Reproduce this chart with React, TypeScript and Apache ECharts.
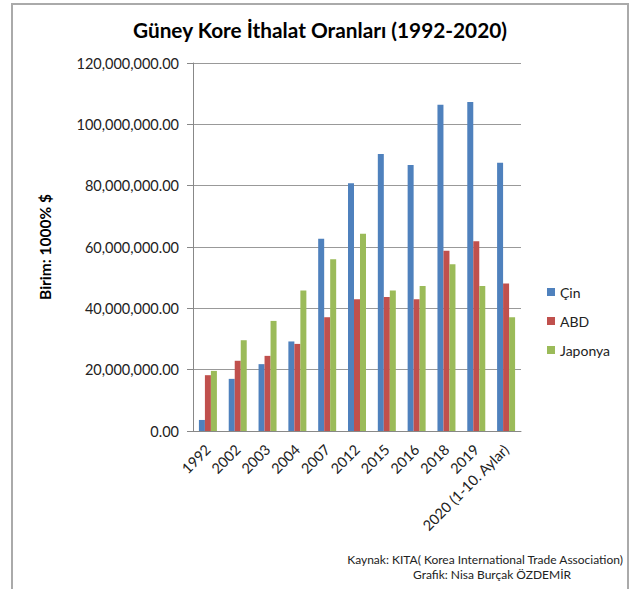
import React, { useEffect, useRef } from "react";
import * as echarts from "echarts";

const categories = ["1992", "2002", "2003", "2004", "2007", "2012", "2015", "2016", "2018", "2019", "2020 (1-10. Aylar)"];
const cin = [3600000, 17000000, 21800000, 29200000, 62700000, 80800000, 90300000, 86700000, 106400000, 107300000, 87500000];
const abd = [18200000, 22900000, 24500000, 28400000, 37100000, 43000000, 43700000, 43000000, 58800000, 61900000, 48100000];
const japonya = [19600000, 29600000, 35900000, 45800000, 56000000, 64300000, 45800000, 47300000, 54400000, 47300000, 37100000];
const seriesNames = ["Çin", "ABD", "Japonya"];
const title = "Güney Kore İthalat Oranları (1992-2020)";
const yName = "Birim: 1000% $";
const footer1 = "Kaynak: KITA( Korea International Trade Association)";
const footer2 = "Grafik: Nisa Burçak ÖZDEMİR";

const FONT = "Lato";

export default function App() {
  const ref = useRef<HTMLDivElement>(null);
  useEffect(() => {
    const chart = echarts.init(ref.current!, null, { renderer: "svg" });
    const colors = ["#4F81BD", "#C0504D", "#9BBB59"];
    const data = [cin, abd, japonya];
    chart.setOption({
      animation: false,
      backgroundColor: "#ffffff",
      textStyle: { fontFamily: FONT },
      title: {
        text: title,
        left: 320,
        textAlign: "center",
        top: 19,
        padding: 0,
        textStyle: { fontFamily: FONT, fontSize: 20.8, fontWeight: "bold", color: "#000" },
      },
      legend: {
        orient: "vertical",
        left: 547,
        top: 285,
        padding: 0,
        itemWidth: 8,
        itemHeight: 8,
        itemGap: 15,
        icon: "rect",
        textStyle: { fontFamily: FONT, fontSize: 14, color: "#222" },
        data: seriesNames,
      },
      grid: { left: 193, right: 112, top: 63, bottom: 158 },
      xAxis: {
        type: "category",
        data: categories,
        axisLine: { show: true, lineStyle: { color: "#888", width: 1 } },
        axisTick: { show: false },
        axisLabel: { rotate: 45, fontSize: 14.5, color: "#222", fontFamily: FONT, margin: 16, interval: 0 },
      },
      yAxis: {
        type: "value",
        min: 0,
        max: 120000000,
        interval: 20000000,
        name: yName,
        nameLocation: "middle",
        nameRotate: 90,
        nameGap: 140,
        nameTextStyle: { fontFamily: FONT, fontSize: 15.5, fontWeight: "bold", color: "#000" },
        axisLine: { show: true, lineStyle: { color: "#888", width: 1 } },
        axisTick: { show: true, length: 6, lineStyle: { color: "#888" } },
        splitLine: { show: true, lineStyle: { color: "#999", width: 1 } },
        axisLabel: {
          fontSize: 14.5,
          color: "#222",
          fontFamily: FONT,
          margin: 14,
          formatter: (v: number) => v.toLocaleString("en-US", { minimumFractionDigits: 2, maximumFractionDigits: 2 }),
        },
      },
      series: seriesNames.map((n, i) => ({
        name: n,
        type: "bar",
        data: data[i],
        barWidth: 6,
        barGap: "0%",
        itemStyle: { color: colors[i] },
      })),
      graphic: [
        {
          type: "rect",
          shape: { x: 12, y: 4, width: 616, height: 600 },
          style: { fill: "none", stroke: "#aaaaaa", lineWidth: 2 },
          silent: true,
        },
        {
          type: "text",
          x: 623,
          y: 559,
          style: { text: footer1, fontFamily: FONT, fontSize: 12, fill: "#222", align: "right", verticalAlign: "middle" },
        },
        {
          type: "text",
          x: 492,
          y: 574,
          style: { text: footer2, fontFamily: FONT, fontSize: 12, fill: "#222", align: "center", verticalAlign: "middle" },
        },
      ],
    });
    return () => chart.dispose();
  }, []);
  return <div ref={ref} style={{ position: "absolute", left: 0, top: 0, width: 633, height: 589 }} />;
}
